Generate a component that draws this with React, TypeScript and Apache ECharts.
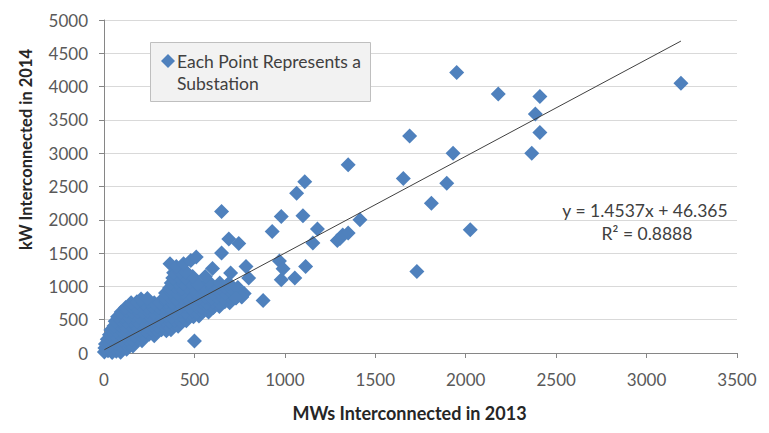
import React, { useEffect, useRef } from 'react';
import * as echarts from 'echarts';

const FONT = 'Lato, "Noto Sans", sans-serif';

const xTickMin = 0;
const xTickMax = 3500;
const xTickStep = 500;
const yTickMin = 0;
const yTickMax = 5000;
const yTickStep = 500;

const xAxisTitle = 'MWs Interconnected in 2013';
const yAxisTitle = 'kW Interconnected in 2014';
const legendLines = ['Each Point Represents a', 'Substation'];
const trendSlope = 1.4537;
const trendIntercept = 46.365;
const trendLabel = 'y = 1.4537x + 46.365';
const r2Label = 'R² = 0.8888';

// dense cluster of small substations (MW 2013, kW 2014)
const clusterPoints: [number, number][] = [
  [2, 15], [22, 32], [45, 8], [68, 28], [92, 12],
  [5, 75], [30, 58], [55, 82], [82, 62], [105, 78], [125, 55],
  [8, 135], [35, 118], [62, 142], [90, 122], [118, 140], [145, 120], [160, 105],
  [18, 205], [45, 188], [72, 212], [100, 192], [128, 210], [155, 190], [182, 205], [210, 185],
  [30, 275], [58, 260], [85, 282], [112, 262], [140, 280], [168, 258], [195, 276], [222, 262], [250, 280], [278, 258],
  [38, 345], [66, 330], [94, 350], [122, 332], [150, 348], [178, 330], [206, 346], [234, 332], [262, 350], [290, 334], [318, 348], [345, 335], [370, 350],
  [55, 405], [85, 420], [115, 402], [145, 418], [175, 404], [205, 420], [235, 405], [265, 418], [295, 402], [325, 420], [355, 405], [385, 418], [410, 400],
  [62, 478], [92, 490], [122, 472], [152, 488], [182, 474], [212, 490], [242, 476], [272, 488], [302, 472], [332, 490], [362, 475], [392, 488], [422, 472], [455, 485],
  [75, 545], [105, 560], [135, 542], [165, 558], [195, 545], [225, 560], [255, 544], [285, 558], [315, 546], [345, 560], [375, 544], [405, 558], [435, 546], [465, 560], [495, 544], [525, 556],
  [95, 615], [125, 630], [155, 612], [185, 628], [215, 615], [245, 630], [275, 612], [305, 628], [335, 615], [365, 630], [395, 612], [425, 628], [455, 615], [485, 630], [515, 612], [545, 628], [578, 615],
  [120, 685], [150, 700], [180, 682], [210, 698], [240, 685], [270, 700], [300, 682], [330, 696], [360, 685], [390, 700], [420, 682], [450, 698], [480, 685], [510, 700], [540, 682], [570, 698], [605, 685], [638, 700],
  [150, 755], [182, 770], [214, 752], [246, 772], [278, 755], [310, 748], [345, 765], [378, 752], [410, 770], [442, 755], [474, 768], [506, 752], [538, 770], [570, 755], [602, 768], [635, 752], [668, 770], [695, 755],
  [205, 810], [240, 820], [330, 825], [362, 840], [395, 822], [428, 838], [460, 825], [492, 840], [525, 822], [558, 838], [590, 825], [625, 840], [660, 822], [695, 838], [730, 825], [762, 842],
  [340, 900], [372, 915], [405, 898], [438, 912], [502, 915], [535, 898], [568, 912], [600, 900], [635, 915], [670, 898], [705, 912], [740, 900], [775, 895],
  [362, 975], [395, 990], [428, 972], [460, 988], [495, 975], [530, 990], [565, 972], [600, 988], [635, 975], [670, 990], [705, 972], [740, 985],
  [372, 1050], [405, 1065], [440, 1048], [475, 1062], [520, 1040], [580, 1068], [640, 1050], [690, 1048],
  [380, 1125], [415, 1140], [450, 1128], [490, 1150], [560, 1150], [700, 1200],
  [385, 1205], [420, 1220], [455, 1215],
  [365, 1340], [400, 1300], [440, 1340], [480, 1390],
];

// larger, scattered substations
const outlierPoints: [number, number][] = [
  [3190, 4050], [1950, 4210], [2180, 3890], [2410, 3850], [2385, 3590], [2410, 3310],
  [2365, 3000], [1690, 3260], [1930, 3000], [1655, 2620], [1895, 2550], [1810, 2250],
  [2025, 1850], [1730, 1225], [1350, 2825], [1110, 2570], [1065, 2400], [980, 2050],
  [1100, 2060], [1415, 2000], [930, 1825], [1180, 1860], [1155, 1650], [1320, 1770],
  [1290, 1690], [1350, 1800], [1305, 1720], [970, 1380], [990, 1265], [1115, 1300],
  [980, 1100], [1055, 1125], [880, 790], [650, 2125], [650, 1500], [690, 1710],
  [745, 1645], [785, 1300], [800, 1125], [760, 850], [730, 830], [500, 180],
  [510, 1440], [600, 1270],
];

const allPoints = [...clusterPoints, ...outlierPoints];

export default function App() {
  const ref = useRef<HTMLDivElement>(null);
  useEffect(() => {
    const chart = echarts.init(ref.current!, null, { renderer: 'svg' });
    const xs = allPoints.map((p) => p[0]);
    const xMinData = Math.min(...xs);
    const xMaxData = Math.max(...xs);
    const trend = [
      [xMinData, trendSlope * xMinData + trendIntercept],
      [xMaxData, trendSlope * xMaxData + trendIntercept],
    ];
    const axisGray = '#868686';
    const plain = (v: number) => String(v);
    chart.setOption({
      animation: false,
      backgroundColor: '#ffffff',
      textStyle: { fontFamily: FONT },
      grid: { left: 104, right: 32, top: 20, bottom: 80, containLabel: false },
      xAxis: {
        type: 'value',
        min: xTickMin,
        max: xTickMax,
        interval: xTickStep,
        axisLine: { show: true, lineStyle: { color: axisGray, width: 1 } },
        axisTick: { show: true, length: 5, lineStyle: { color: axisGray } },
        splitLine: { show: false },
        axisLabel: { color: '#595959', fontSize: 17, fontFamily: FONT, margin: 18, formatter: plain },
        name: xAxisTitle,
        nameLocation: 'middle',
        nameGap: 51,
        nameTextStyle: { color: '#262626', fontSize: 18, fontWeight: 'bold', fontFamily: FONT, padding: [0, 22, 0, 0] },
      },
      yAxis: {
        type: 'value',
        min: yTickMin,
        max: yTickMax,
        interval: yTickStep,
        axisLine: { show: true, lineStyle: { color: axisGray, width: 1 } },
        axisTick: { show: true, length: 5, lineStyle: { color: axisGray } },
        splitLine: { show: true, lineStyle: { color: '#d9d9d9', width: 1 } },
        axisLabel: { color: '#595959', fontSize: 17, fontFamily: FONT, margin: 16, formatter: plain },
        name: yAxisTitle,
        nameLocation: 'middle',
        nameGap: 70,
        nameRotate: 90,
        nameTextStyle: { color: '#262626', fontSize: 16.5, fontWeight: 'bold', fontFamily: FONT, padding: [0, 0, 0, 74] },
      },
      series: [
        {
          name: 'Each Point Represents a Substation',
          type: 'scatter',
          symbol: 'diamond',
          symbolSize: 15,
          itemStyle: { color: '#4F81BD', opacity: 1 },
          data: allPoints,
          z: 2,
        },
        {
          name: 'Linear trend',
          type: 'line',
          data: trend,
          showSymbol: false,
          symbol: 'none',
          lineStyle: { color: '#404040', width: 1 },
          z: 3,
        },
      ],
      graphic: [
        {
          type: 'rect',
          shape: { x: 150.5, y: 42.5, width: 220, height: 59 },
          style: { fill: '#f2f2f2', stroke: '#bfbfbf', lineWidth: 1 },
          z: 10,
        },
        {
          type: 'polygon',
          shape: { points: [[168, 54], [175, 61], [168, 68], [161, 61]] },
          style: { fill: '#4F81BD' },
          z: 11,
        },
        {
          type: 'text',
          x: 177,
          y: 61,
          style: { text: legendLines[0], fill: '#404040', font: `17.5px ${FONT}`, verticalAlign: 'middle' },
          z: 11,
        },
        {
          type: 'text',
          x: 177,
          y: 83,
          style: { text: legendLines[1], fill: '#404040', font: `17.5px ${FONT}`, verticalAlign: 'middle' },
          z: 11,
        },
        {
          type: 'text',
          x: 645,
          y: 210,
          style: { text: trendLabel, fill: '#404040', font: `17.5px ${FONT}`, align: 'center', verticalAlign: 'middle' },
          z: 11,
        },
        {
          type: 'text',
          x: 647,
          y: 233,
          style: { text: r2Label, fill: '#404040', font: `17.5px ${FONT}`, align: 'center', verticalAlign: 'middle' },
          z: 11,
        },
      ],
    });
    return () => chart.dispose();
  }, []);
  return <div ref={ref} style={{ position: 'absolute', left: 0, top: 0, width: 769, height: 433 }} />;
}
